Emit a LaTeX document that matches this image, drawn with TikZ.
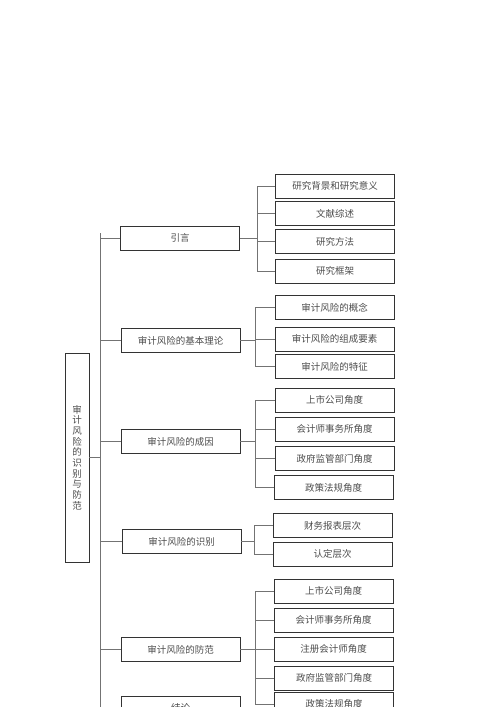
\documentclass[tikz,border=0pt]{standalone}
\usepackage{fontspec}
\newfontfamily\cjk{Noto Sans CJK SC}

\begin{document}
\begin{tikzpicture}[x=1pt,y=-1pt,
	box/.style={draw=black!80,line width=0.9pt,minimum width=119pt,minimum height=24pt,inner sep=0pt,text=black!70,font=\cjk\fontsize{9.5}{10.7}\selectfont},
	link/.style={draw=black!55,line width=0.6pt}]
	\useasboundingbox (0,0) rectangle (500,707);
	\clip (0,0) rectangle (500,707);

	\node[box,minimum width=24pt,minimum height=209pt,align=center](root) at (77,457.5){审\\计\\风\\险\\的\\识\\别\\与\\防\\范};

	\node[box](intro) at (180,238){引言};
	\node[box](theory) at (180.5,340.5){审计风险的基本理论};
	\node[box](cause) at (180.5,441.5){审计风险的成因};
	\node[box](ident) at (181.5,541.5){审计风险的识别};
	\node[box](prev) at (180.5,649.5){审计风险的防范};
	\node[box](concl) at (180.5,708){结论};

	\node[box](intro1) at (335,186){研究背景和研究意义};
	\node[box](intro2) at (335,213.5){文献综述};
	\node[box](intro3) at (335,241.5){研究方法};
	\node[box](intro4) at (335,271){研究框架};

	\node[box](theory1) at (334.5,307.5){审计风险的概念};
	\node[box](theory2) at (334.5,339){审计风险的组成要素};
	\node[box](theory3) at (334.5,366.5){审计风险的特征};

	\node[box](cause1) at (334.5,400){上市公司角度};
	\node[box](cause2) at (334.5,429){会计师事务所角度};
	\node[box](cause3) at (334.5,458.5){政府监管部门角度};
	\node[box](cause4) at (333.5,487.5){政策法规角度};

	\node[box](ident1) at (332.5,525.5){财务报表层次};
	\node[box](ident2) at (332.5,554){认定层次};

	\node[box](prev1) at (333.5,591){上市公司角度};
	\node[box](prev2) at (333.5,620){会计师事务所角度};
	\node[box](prev3) at (333.5,649){注册会计师角度};
	\node[box](prev4) at (334,678){政府监管部门角度};
	\node[box](prev5) at (334,704){政策法规角度};

	% trunk
	\coordinate (top) at (100,233);
	\coordinate (bottom) at (100,707);
	\draw[link] (top) -- (bottom);
	\draw[link] (root.east) -- (root.east -| top);
	\foreach \n in {intro,theory,cause,ident,prev,concl}
		\draw[link] (\n.west -| top) -- (\n.west);

	% branches
	\draw[link] (intro.east) -- ++(17,0) coordinate (bintro);
	\foreach \k in {intro1,intro2,intro3,intro4}
		\draw[link] (bintro) |- (\k.west);
	\draw[link] (theory.east) -- ++(14.5,0) coordinate (btheory);
	\foreach \k in {theory1,theory2,theory3}
		\draw[link] (btheory) |- (\k.west);
	\draw[link] (cause.east) -- ++(14.5,0) coordinate (bcause);
	\foreach \k in {cause1,cause2,cause3,cause4}
		\draw[link] (bcause) |- (\k.west);
	\draw[link] (ident.east) -- ++(12.5,0) coordinate (bident);
	\foreach \k in {ident1,ident2}
		\draw[link] (bident) |- (\k.west);
	\draw[link] (prev.east) -- ++(14.5,0) coordinate (bprev);
	\foreach \k in {prev1,prev2,prev3,prev4,prev5}
		\draw[link] (bprev) |- (\k.west);
\end{tikzpicture}
\end{document}
